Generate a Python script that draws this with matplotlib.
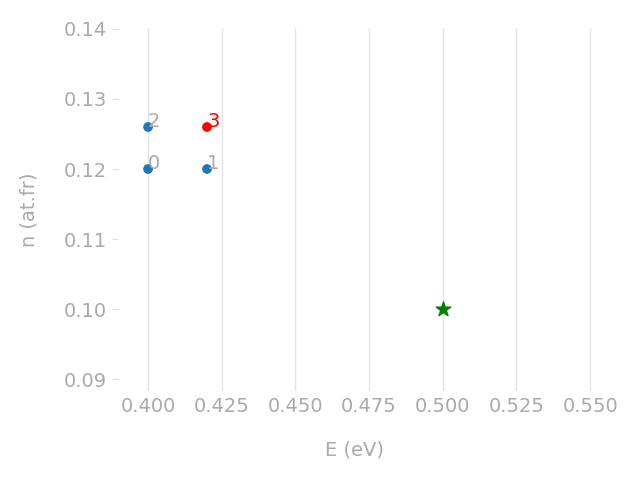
import matplotlib
matplotlib.use("Agg")
import matplotlib.pyplot as plt

# data points
E = [0.400, 0.420, 0.400, 0.420]
n = [0.120, 0.120, 0.126, 0.126]
labels = ["0", "1", "2", "3"]
colors = ["#1f77b4", "#1f77b4", "#1f77b4", "red"]
label_colors = ["#aaaaaa", "#aaaaaa", "#aaaaaa", "red"]

target_E = [0.5]
target_n = [0.1]

xticks = [0.400, 0.425, 0.450, 0.475, 0.500, 0.525, 0.550]
yticks = [0.09, 0.10, 0.11, 0.12, 0.13, 0.14]

gray = "#aaaaaa"

fig = plt.figure(figsize=(6.4, 4.8), dpi=100)
ax = fig.add_axes([0.1844, 0.1854, 0.7400, 0.7563])

ax.scatter(E, n, c=colors, s=36, zorder=3)
for x, y, t, c in zip(E, n, labels, label_colors):
    ax.text(x, y, t, color=c, fontsize=14, zorder=4)
ax.scatter(target_E, target_n, marker="*", c="green", s=120, zorder=3)

ax.set_xlim(0.3898, 0.5505)
ax.set_ylim(0.0883, 0.14014)
ax.set_xticks(xticks)
ax.set_xticklabels([f"{v:.3f}" for v in xticks])
ax.set_yticks(yticks)
ax.set_yticklabels([f"{v:.2f}" for v in yticks])

ax.grid(axis="x", color="#e5e5e5", linewidth=1)
ax.set_axisbelow(True)
for s in ax.spines.values():
    s.set_visible(False)

ax.tick_params(axis="x", length=0, labelsize=14, labelcolor=gray, pad=4)
ax.tick_params(axis="y", length=4, color="#dddddd", labelsize=14, labelcolor=gray, pad=4)

ax.set_xlabel("E (eV)", color=gray, fontsize=14, labelpad=18)
ax.set_ylabel("n (at.fr)", color=gray, fontsize=14, labelpad=18)

fig.savefig("out.png", dpi=100)
